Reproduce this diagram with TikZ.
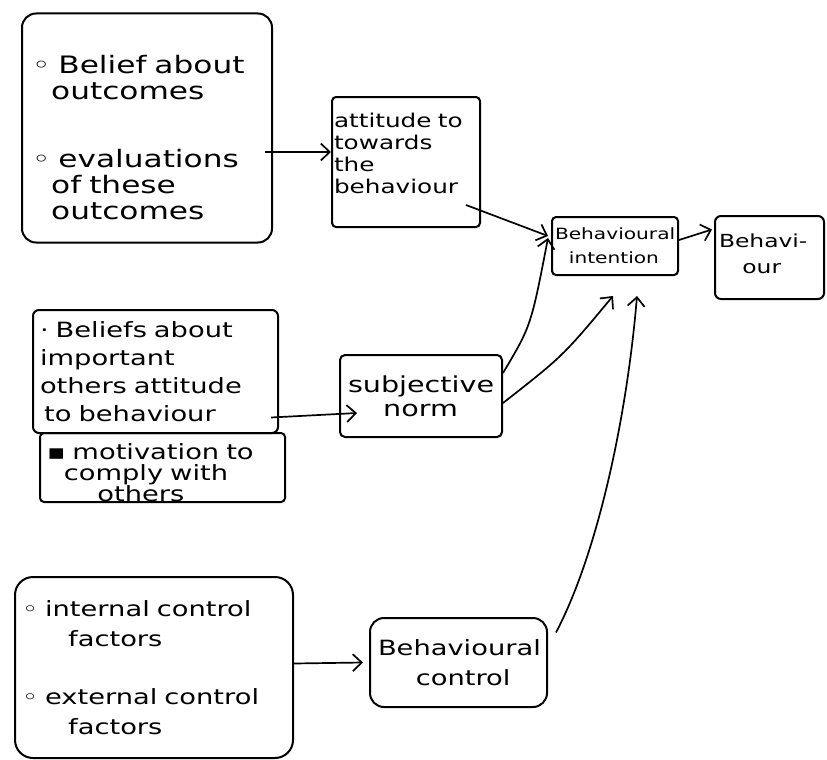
\documentclass[tikz,border=0pt]{standalone}
\usepackage{fontspec}
\setmainfont[FakeStretch=1.3]{DejaVu Sans}
\usetikzlibrary{arrows.meta,calc}
\begin{document}
\begin{tikzpicture}[x=1pt,y=-1pt,
  box/.style={draw, line width=2pt, rounded corners=10pt, inner sep=0pt, align=left},
  conn/.style={line width=1.7pt, -{Straight Barb[length=9pt,width=17pt,line width=1.7pt]}},
]
\useasboundingbox (0,0) rectangle (827,760);

\node[box, rounded corners=14pt, minimum width=250pt, minimum height=229pt, text width=230pt, font=\fontsize{24}{26}\selectfont] (b1) at (147,128)
  {\rule{0pt}{38pt}◦ Belief about\\\hspace{0.8em}outcomes\\[42pt]◦ evaluations\\\hspace{0.8em}of these\\\hspace{0.8em}outcomes};
\node[box, rounded corners=4pt, minimum width=148pt, minimum height=130pt, text width=144pt, font=\fontsize{19}{22}\selectfont] (b2) at (406,162)
  {attitude to\\towards\\the\\behaviour\rule[-18pt]{0pt}{0pt}};
\node[box, rounded corners=4pt, minimum width=126pt, minimum height=58pt, text width=120pt, font=\fontsize{15.5}{24}\selectfont] (b3) at (615,246)
  {Behavioural\\\hspace{0.9em}intention};
\node[box, rounded corners=6pt, minimum width=109pt, minimum height=83pt, text width=101pt, font=\fontsize{18}{26}\selectfont] (b4) at (769.5,257.5)
  {\mbox{Behavi-}\\\hspace{1.3em}our\rule[-8pt]{0pt}{0pt}};
\node[box, rounded corners=6pt, minimum width=245pt, minimum height=123pt, text width=231pt, font=\fontsize{21}{28}\selectfont] (b5a) at (155.5,371.5)
  {· Beliefs about\\important\\others attitude\\\hspace{0.2em}to behaviour};
\node[box, rounded corners=4pt, minimum width=245pt, minimum height=69pt, text width=231pt, font=\fontsize{21}{21}\selectfont] (b5b) at (162.5,467.5)
  {\rule{0pt}{26pt}▪ motivation to\\\hspace{0.8em}comply with\\\hspace{2.4em}others};
\node[box, rounded corners=5pt, minimum width=162pt, minimum height=82pt, text width=146pt, font=\fontsize{22}{24}\selectfont] (b6) at (421,396)
  {subjective\\\hspace{1.6em}norm};
\node[box, rounded corners=18pt, minimum width=278pt, minimum height=181pt, text width=264pt, font=\fontsize{21}{30}\selectfont] (b7) at (154,667.5)
  {◦ internal control\\\hspace{2.2em}factors\\[28pt]◦ external control\\\hspace{2.2em}factors};
\node[box, rounded corners=14pt, minimum width=177pt, minimum height=89pt, text width=161pt, font=\fontsize{21}{30}\selectfont] (b8) at (458.5,662.5)
  {Behavioural\\\hspace{1.8em}control};

\draw[conn] ($(b1.east)+(-8,24)$) -- ($(b2.west)+(0,-10)$);
\draw[conn] ($(b2.east)+(-15,43)$) -- ($(b3.west)+(-3,-10)$);
\draw[conn] ($(b3.east)+(0,-6)$) -- ($(b4.west)+(-2,-28)$);
\draw[conn] ($(b5a.east)+(-8,46)$) -- ($(b6.west)+(18,17)$);
\draw[conn] ($(b6.east)+(0,-23)$) .. controls ($(b6.east)+(28,-70)$) .. ($(b3.west)+(-3,-8)$);
\draw[conn] ($(b6.east)+(0,7)$) .. controls ($(b6.east)+(60,-40)$) .. ($(b3.south)+(-2,20)$);
\draw[conn] ($(b7.east)+(0,-4)$) -- ($(b8.west)+(-6,0)$);
\draw[conn] ($(b8.east)+(8,-30)$) .. controls ($(b8.east)+(50,-110)$) and ($(b3.south)+(12,140)$) .. ($(b3.south)+(22,20)$);
\end{tikzpicture}
\end{document}
